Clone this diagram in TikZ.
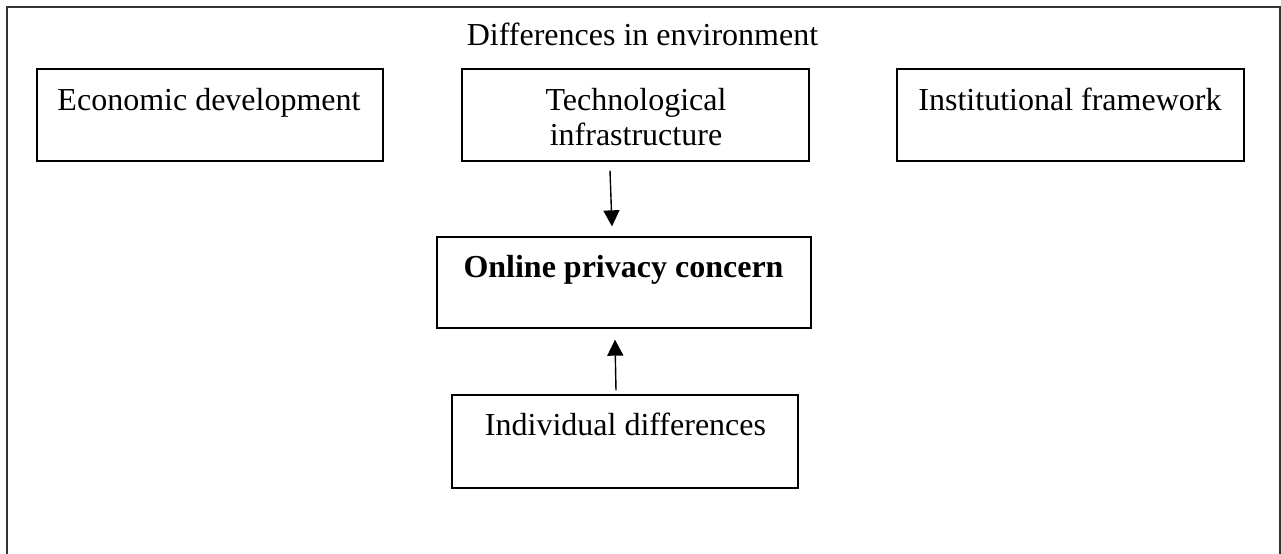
\documentclass[tikz,border=0pt]{standalone}
\usepackage{fontspec}
\setmainfont{Liberation Serif}
\usetikzlibrary{arrows.meta,calc}
\begin{document}
\begin{tikzpicture}[x=0.5pt,y=-0.5pt,
  boxnode/.style={draw=black,line width=0.65pt,minimum width=#1,inner sep=0pt},
  txt/.style={inner sep=0pt,anchor=base,font=\fontsize{16}{18}\selectfont},
  arr/.style={line width=0.7pt,-{Triangle[length=8pt,width=8pt]}}]
\useasboundingbox (0,0) rectangle (1281,553);
\clip (0,0) rectangle (1281,553);
\draw[line width=1pt,draw=black!80] (7,7) rectangle (1280,600);
% boxes
\node[boxnode=173pt,minimum height=46pt] (econ) at (210,115) {};
\node[boxnode=173.5pt,minimum height=46pt] (tech) at (635.5,115) {};
\node[boxnode=173.5pt,minimum height=46pt] (inst) at (1070.5,115) {};
\node[boxnode=187pt,minimum height=45.5pt] (online) at (624,282.5) {};
\node[boxnode=173pt,minimum height=46.5pt] (indiv) at (625,441.5) {};
% texts
\node[txt] (title) at (642.5,45) {Differences in environment};
\node[txt] (econt) at (209,110) {Economic development};
\node[txt] (techt1) at (636,110) {Technological};
\node[txt] (techt2) at (636,145) {infrastructure};
\node[txt] (instt) at (1070,110) {Institutional framework};
\node[txt,font=\fontsize{16}{18}\selectfont\bfseries] (onlinet) at (623.5,277) {Online privacy concern};
\node[txt] (indivt) at (625.5,435) {Individual differences};
% arrows
\draw[arr] ($(tech.south)+(-25.5,9)$) -- ($(online.north)+(-12,-10)$);
\draw[arr] ($(indiv.north)+(-9,-4)$) -- ($(online.south)+(-9,11)$);
\end{tikzpicture}
\end{document}
